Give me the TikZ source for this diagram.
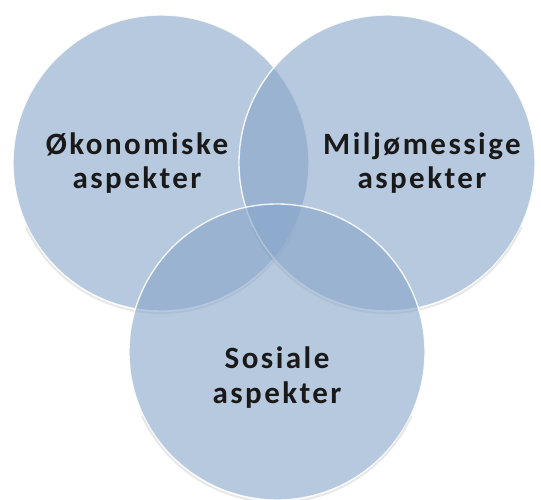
\documentclass[tikz,border=0pt]{standalone}
\usepackage{fontspec}
\setmainfont{Carlito}[LetterSpace=8]
\begin{document}
\begin{tikzpicture}[x=1pt,y=-1pt,
  venn/.style={circle, minimum size=296pt, inner sep=0pt, fill={rgb,255:red,135;green,165;blue,201}, fill opacity=0.6, draw=white, draw opacity=0.85, line width=1.4pt},
  vshadow/.style={draw=black, draw opacity=0.09, line width=2pt, line cap=round},
  lbl/.style={align=center, font=\fontsize{31}{35}\selectfont\bfseries, text=black!90, text opacity=1}]
\useasboundingbox[fill=white] (0,0) rectangle (541,500);
\node[venn] (oko) at (161,163) {};
\draw[vshadow] ([yshift=-1.5pt]oko.205) arc[start angle=205, end angle=335, radius=148.5pt];
\node[venn] (mil) at (387,163) {};
\draw[vshadow] ([yshift=-1.5pt]mil.205) arc[start angle=205, end angle=335, radius=148.5pt];
\node[venn] (sos) at (277,352) {};
\draw[vshadow] ([yshift=-1.5pt]sos.205) arc[start angle=205, end angle=335, radius=148.5pt];
\node[lbl, anchor=base] (tOko) at (137,189) {Økonomiske\\aspekter};
\node[lbl, anchor=base] (tMil) at (422,189) {Miljømessige\\aspekter};
\node[lbl, anchor=base] (tSos) at (277,403) {Sosiale\\aspekter};
\end{tikzpicture}
\end{document}
